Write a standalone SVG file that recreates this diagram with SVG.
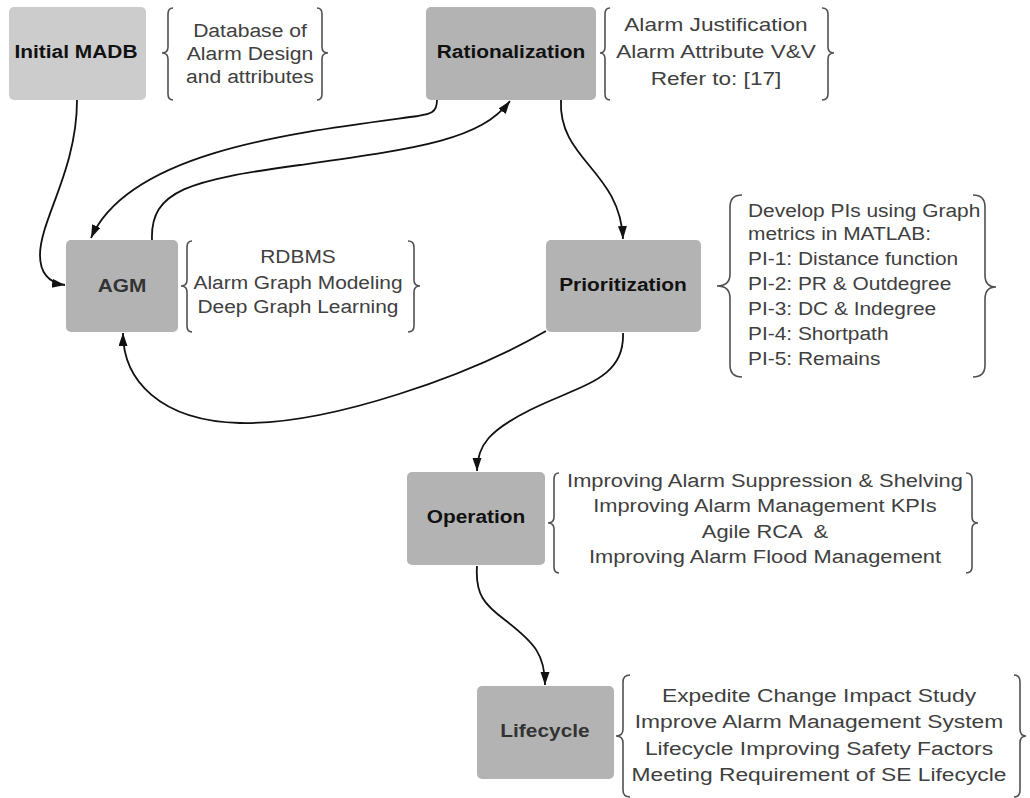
<svg xmlns="http://www.w3.org/2000/svg" width="1030" height="798" viewBox="0 0 1030 798">
<defs>
<style>
.box{fill:#b3b3b3}
.box0{fill:#cccccc}
.lbl{font-family:"Liberation Sans",Arial,sans-serif;font-size:18.5px;font-weight:bold;fill:#111;text-anchor:middle}
.lbl2{fill:#333}
.txt{font-family:"Liberation Sans",Arial,sans-serif;font-size:19px;fill:#404040;text-anchor:middle}
.txtl{font-family:"Liberation Sans",Arial,sans-serif;font-size:19px;fill:#404040;text-anchor:start}
.brace{fill:none;stroke:#505050;stroke-width:1.6}
.conn{fill:none;stroke:#111;stroke-width:1.8}
</style>
<marker id="arr" markerUnits="userSpaceOnUse" markerWidth="14" markerHeight="10" refX="13" refY="4.5" orient="auto">
<path d="M0,0 L13,4.5 L0,9 z" fill="#111"/>
</marker>
</defs>
<rect width="1030" height="798" fill="#ffffff"/>

<g id="connectors">
<path class="conn" marker-end="url(#arr)" d="M77,100 C77,170 40,220 40,255 C40,274 50,283 65,285"/>
<path class="conn" marker-end="url(#arr)" d="M437,100 C437,113 430,114 418,116 C300,132 130,150 91,238"/>
<path class="conn" marker-end="url(#arr)" d="M152,240 C150,190 190,180 300,165 C420,148 480,140 510,101"/>
<path class="conn" marker-end="url(#arr)" d="M561,100 C558,160 620,170 623,239"/>
<path class="conn" marker-end="url(#arr)" d="M546,331 C470,375 330,425 240,423 C160,421 123,380 123,333"/>
<path class="conn" marker-end="url(#arr)" d="M623,333 C625,380 580,385 530,410 C490,430 477,445 477,471"/>
<path class="conn" marker-end="url(#arr)" d="M477,566 C475,595 485,605 505,620 C535,643 545,655 545,685"/>
</g>

<g id="initial-madb">
<rect class="box0" x="9" y="7" width="137" height="93" rx="5"/>
<text class="lbl" transform="matrix(1.13,0,0,1,-9.88,0)" x="76" y="58">Initial MADB</text>
<path class="brace" d="M173,8 Q168,8 168,14 L168,47 Q168,53 162,53 Q168,53 168,59 L168,94 Q168,100 173,100"/>
<path class="brace" d="M317,8 Q322,8 322,14 L322,47 Q322,53 328,53 Q322,53 322,59 L322,94 Q322,100 317,100"/>
<g transform="matrix(1.11,0,0,1,-27.5,0)">
<text class="txt" x="250" y="37">Database of</text>
<text class="txt" x="250" y="60">Alarm Design</text>
<text class="txt" x="250" y="83">and attributes</text>
</g>
</g>

<g id="rationalization">
<rect class="box" x="426" y="7" width="170" height="93" rx="5"/>
<text class="lbl" transform="matrix(1.13,0,0,1,-66.43,0)" x="511" y="58">Rationalization</text>
<path class="brace" d="M610,8 Q605,8 605,14 L605,47 Q605,53 600,53 Q605,53 605,59 L605,94 Q605,100 610,100"/>
<path class="brace" d="M822,8 Q828,8 828,14 L828,47 Q828,53 834,53 Q828,53 828,59 L828,94 Q828,100 822,100"/>
<g transform="matrix(1.19,0,0,1,-136.04,0)">
<text class="txt" x="716" y="31.5">Alarm Justification</text>
<text class="txt" x="716" y="58">Alarm Attribute V&amp;V</text>
<text class="txt" x="716" y="85">Refer to: [17]</text>
</g>
</g>

<g id="agm">
<rect class="box" x="66" y="240" width="112" height="92" rx="5"/>
<text class="lbl lbl2" transform="matrix(1.13,0,0,1,-15.86,0)" x="122" y="292">AGM</text>
<path class="brace" d="M192,241 Q187,241 187,247 L187,280 Q187,286 181,286 Q187,286 187,292 L187,326 Q187,332 192,332"/>
<path class="brace" d="M408,241 Q414,241 414,247 L414,280 Q414,286 420,286 Q414,286 414,292 L414,326 Q414,332 408,332"/>
<g transform="matrix(1.1,0,0,1,-29.8,0)">
<text class="txt" x="298" y="263">RDBMS</text>
<text class="txt" x="298" y="289">Alarm Graph Modeling</text>
<text class="txt" x="298" y="313">Deep Graph Learning</text>
</g>
</g>

<g id="prioritization">
<rect class="box" x="546" y="240" width="155" height="92" rx="5"/>
<text class="lbl" transform="matrix(1.13,0,0,1,-80.99,0)" x="623" y="291">Prioritization</text>
<path class="brace" d="M742,195 Q730,195 730,207 L730,274 Q730,286 717,286 Q730,286 730,298 L730,365 Q730,377 742,377"/>
<path class="brace" d="M973,195 Q985,195 985,207 L985,275 Q985,287 996,287 Q985,287 985,299 L985,365 Q985,377 973,377"/>
<g transform="matrix(1.1,0,0,1,-74.8,0)">
<text class="txtl" x="748" y="217">Develop PIs using Graph</text>
<text class="txtl" x="748" y="240">metrics in MATLAB:</text>
<text class="txtl" x="748" y="265">PI-1: Distance function</text>
<text class="txtl" x="748" y="290">PI-2: PR &amp; Outdegree</text>
<text class="txtl" x="748" y="315">PI-3: DC &amp; Indegree</text>
<text class="txtl" x="748" y="340">PI-4: Shortpath</text>
<text class="txtl" x="748" y="365">PI-5: Remains</text>
</g>
</g>

<g id="operation">
<rect class="box" x="407" y="472" width="138" height="93" rx="5"/>
<text class="lbl" transform="matrix(1.13,0,0,1,-61.88,0)" x="476" y="523">Operation</text>
<path class="brace" d="M559,473 Q554,473 554,479 L554,517 Q554,523 548,523 Q554,523 554,529 L554,567 Q554,573 559,573"/>
<path class="brace" d="M966,473 Q972,473 972,479 L972,517 Q972,523 978,523 Q972,523 972,529 L972,567 Q972,573 966,573"/>
<g transform="matrix(1.15,0,0,1,-114.75,0)">
<text class="txt" x="765" y="487">Improving Alarm Suppression &amp; Shelving</text>
<text class="txt" x="765" y="512">Improving Alarm Management KPIs</text>
<text class="txt" x="765" y="538" xml:space="preserve">Agile RCA  &amp;</text>
<text class="txt" x="765" y="563">Improving Alarm Flood Management</text>
</g>
</g>

<g id="lifecycle">
<rect class="box" x="477" y="686" width="137" height="93" rx="5"/>
<text class="lbl lbl2" transform="matrix(1.13,0,0,1,-70.85,0)" x="545" y="737">Lifecycle</text>
<path class="brace" d="M630,675 Q623,675 623,682 L623,729 Q623,736 616,736 Q623,736 623,743 L623,790 Q623,797 630,797"/>
<path class="brace" d="M1014,675 Q1020,675 1020,682 L1020,729 Q1020,736 1026,736 Q1020,736 1020,743 L1020,790 Q1020,797 1014,797"/>
<g transform="matrix(1.2,0,0,1,-163.8,0)">
<text class="txt" x="819" y="702">Expedite Change Impact Study</text>
<text class="txt" x="819" y="728">Improve Alarm Management System</text>
<text class="txt" x="819" y="755">Lifecycle Improving Safety Factors</text>
<text class="txt" x="819" y="781">Meeting Requirement of SE Lifecycle</text>
</g>
</g>
</svg>
